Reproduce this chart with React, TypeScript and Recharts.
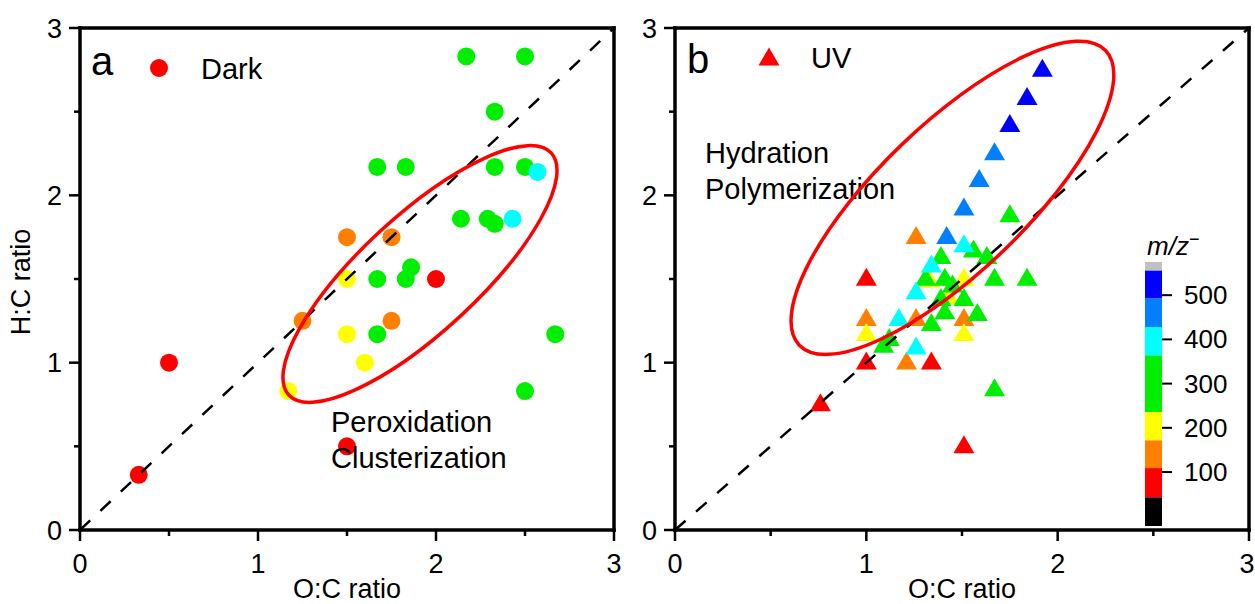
import React from 'react';
import { ScatterChart, Scatter, XAxis, YAxis, ReferenceLine, ReferenceArea } from 'recharts';

const FONT = '"Liberation Sans", Arial, Helvetica, sans-serif';

// each point: [O:C ratio, H:C ratio, m/z]
const darkPoints: number[][] = [
  [0.33, 0.33, 80], [0.5, 1.0, 80], [1.5, 0.5, 80], [2.0, 1.5, 80],
  [1.25, 1.25, 140], [1.5, 1.75, 140], [1.75, 1.75, 140], [1.75, 1.25, 140],
  [1.17, 0.83, 200], [1.5, 1.5, 200], [1.5, 1.17, 200], [1.6, 1.0, 200],
  [1.67, 2.17, 300], [1.83, 2.17, 300], [1.67, 1.5, 300], [1.86, 1.57, 300],
  [1.83, 1.5, 300], [1.67, 1.17, 300], [2.17, 2.83, 300], [2.5, 2.83, 300],
  [2.33, 2.5, 300], [2.33, 2.17, 300], [2.5, 2.17, 300], [2.14, 1.86, 300],
  [2.29, 1.86, 300], [2.33, 1.83, 300], [2.67, 1.17, 300], [2.5, 0.83, 300],
  [2.57, 2.14, 400], [2.43, 1.86, 400],
];

const uvPoints: number[][] = [
  [1.26, 1.76, 140], [1.0, 1.27, 140], [1.26, 1.27, 140], [1.51, 1.27, 140], [1.21, 1.01, 140],
  [1.33, 1.5, 200], [1.51, 1.51, 200], [1.43, 1.4, 200], [1.0, 1.18, 200], [1.51, 1.18, 200],
  [1.75, 1.89, 300], [1.56, 1.68, 300], [1.63, 1.64, 300], [1.39, 1.64, 300], [1.31, 1.51, 300],
  [1.41, 1.51, 300], [1.45, 1.47, 300], [1.67, 1.51, 300], [1.84, 1.51, 300], [1.39, 1.39, 300],
  [1.51, 1.39, 300], [1.41, 1.31, 300], [1.58, 1.3, 300], [1.34, 1.24, 300], [1.09, 1.11, 300],
  [1.12, 1.15, 300], [1.67, 0.85, 300],
  [1.51, 1.71, 400], [1.34, 1.59, 400], [1.26, 1.43, 400], [1.17, 1.27, 400], [1.26, 1.1, 400],
  [1.67, 2.26, 460], [1.59, 2.1, 460], [1.51, 1.93, 460], [1.42, 1.76, 460],
  [1.92, 2.76, 520], [1.84, 2.59, 520], [1.75, 2.43, 520],
  [1.0, 1.51, 80], [1.0, 1.01, 80], [1.34, 1.01, 80], [0.76, 0.76, 80], [1.51, 0.51, 80],
];

const axisTicks = [0, 0.5, 1, 1.5, 2, 2.5, 3];
const diagonal = [{ x: 0, y: 0 }, { x: 3, y: 3 }];
const darkEllipseCenter = [{ x: 1.91, y: 1.53 }];
const uvEllipseCenter = [{ x: 1.45, y: 1.985 }];

// colour scale (m/z)
const colorLevels = [-22, 43, 109, 172, 236, 364, 428, 493, 556, 575];
const colorBands = ['#000000', '#ff0000', '#ff8000', '#ffff00', '#00ee00', '#00ffff', '#0080ff', '#0000ff', '#c0c0c0'];
const colorTicks = [100, 200, 300, 400, 500];

const mzColor = (mz: number) => {
  for (let i = 0; i < colorBands.length; i++) {
    if (mz >= colorLevels[i] && mz < colorLevels[i + 1]) return colorBands[i];
  }
  return colorBands[colorBands.length - 1];
};

const toRows = (pts: number[][]) => pts.map(([x, y, mz]) => ({ x, y, mz }));

const XTick = (props: any) => {
  const { x, y, payload, maxX } = props;
  const major = Number.isInteger(payload.value);
  return (
    <g>
      <line x1={x} x2={x} y1={y} y2={y + (major ? 11 : 6)} stroke="#000" strokeWidth={2.5} />
      {major && (
        <text x={Math.min(x, maxX)} y={y + 43} textAnchor="middle" fontSize={27} fontFamily={FONT} fill="#000">
          {payload.value}
        </text>
      )}
    </g>
  );
};

const YTick = (props: any) => {
  const { x, y, payload } = props;
  const major = Number.isInteger(payload.value);
  return (
    <g>
      <line x1={x} x2={x - (major ? 11 : 6)} y1={y} y2={y} stroke="#000" strokeWidth={2.5} />
      {major && (
        <text x={x - 18} y={y + 9.5} textAnchor="end" fontSize={27} fontFamily={FONT} fill="#000">
          {payload.value}
        </text>
      )}
    </g>
  );
};

const ColorTick = (props: any) => {
  const { x, y, payload } = props;
  return (
    <g>
      <line x1={x} x2={x + 10} y1={y} y2={y} stroke="#000" strokeWidth={2} />
      <text x={x + 22} y={y + 9} textAnchor="start" fontSize={26} fontFamily={FONT} fill="#000">
        {payload.value}
      </text>
    </g>
  );
};

const Circle = (p: any) => <circle cx={p.cx} cy={p.cy} r={9} fill={mzColor(p.payload.mz)} />;

const Triangle = (p: any) => (
  <polygon
    points={`${p.cx},${p.cy - 9.5} ${p.cx + 10.5},${p.cy + 8.5} ${p.cx - 10.5},${p.cy + 8.5}`}
    fill={mzColor(p.payload.mz)}
  />
);

const ellipseShape = (rx: number, ry: number, angle: number) => (p: any) => (
  <ellipse
    cx={p.cx}
    cy={p.cy}
    rx={rx}
    ry={ry}
    transform={`rotate(${-angle} ${p.cx} ${p.cy})`}
    fill="none"
    stroke="#ff0000"
    strokeWidth={3.5}
  />
);

const noShape = () => <g />;

const axisLine = { stroke: '#000', strokeWidth: 3.5, strokeLinecap: 'square' as const };

interface PanelProps {
  points: number[][];
  marker: (p: any) => React.ReactElement;
  ellipse: { x: number; y: number }[];
  ellipseDraw: (p: any) => React.ReactElement;
  width: number;
  marginLeft: number;
  marginRight: number;
  yAxisWidth: number;
}

const Panel: React.FC<PanelProps> = ({ points, marker, ellipse, ellipseDraw, width, marginLeft, marginRight, yAxisWidth }) => (
  <ScatterChart width={width} height={604} margin={{ top: 28, right: marginRight, bottom: 0, left: marginLeft }}>
    <XAxis
      type="number"
      dataKey="x"
      domain={[0, 3]}
      ticks={axisTicks}
      interval={0}
      allowDataOverflow
      height={74}
      tickSize={0}
      tickMargin={0}
      tickLine={false}
      axisLine={axisLine}
      tick={(p: any) => <XTick {...p} maxX={width - 8} />}
    />
    <YAxis
      type="number"
      dataKey="y"
      domain={[0, 3]}
      ticks={axisTicks}
      interval={0}
      allowDataOverflow
      width={yAxisWidth}
      tickSize={0}
      tickMargin={0}
      tickLine={false}
      axisLine={axisLine}
      tick={(p: any) => <YTick {...p} />}
    />
    <ReferenceLine y={3} stroke="#000" strokeWidth={3.5} strokeLinecap="square" />
    <ReferenceLine x={3} stroke="#000" strokeWidth={3.5} strokeLinecap="square" />
    <Scatter data={toRows(points)} shape={marker} isAnimationActive={false} />
    <Scatter
      data={diagonal}
      shape={noShape}
      line={{ stroke: '#000', strokeWidth: 2.5, strokeDasharray: '14 14' }}
      isAnimationActive={false}
    />
    <Scatter data={ellipse} shape={ellipseDraw} isAnimationActive={false} />
  </ScatterChart>
);

const ColorBar = () => (
  <ScatterChart width={150} height={300} margin={{ top: 12, right: 8, bottom: 24, left: 45 }}>
    <XAxis type="number" dataKey="x" domain={[0, 1]} allowDataOverflow hide />
    <YAxis
      type="number"
      dataKey="y"
      orientation="right"
      domain={[colorLevels[0], colorLevels[colorLevels.length - 1]]}
      allowDataOverflow
      ticks={colorTicks}
      interval={0}
      width={80}
      tickSize={0}
      tickMargin={0}
      tickLine={false}
      axisLine={false}
      tick={(p: any) => <ColorTick {...p} />}
    />
    {colorBands.map((c, i) => (
      <ReferenceArea
        key={c}
        x1={0}
        x2={1}
        y1={colorLevels[i]}
        y2={colorLevels[i + 1]}
        fill={c}
        fillOpacity={1}
        stroke="none"
      />
    ))}
  </ScatterChart>
);

const T = ({ x, y, size, children, anchor = 'start' }: any) => (
  <text x={x} y={y} fontSize={size} fontFamily={FONT} fill="#000" textAnchor={anchor}>
    {children}
  </text>
);

const layer: React.CSSProperties = { position: 'absolute', left: 0, top: 0, pointerEvents: 'none' };

export default function App() {
  return (
    <div style={{ position: 'absolute', left: 0, top: 0, width: 1255, height: 604, background: '#fff', overflow: 'hidden', fontFamily: FONT }}>
      {/* text that sits under panel b's ellipse */}
      <svg width={1255} height={604} style={layer}>
        <T x={705} y={163} size={29}>Hydration</T>
        <T x={705} y={199} size={29}>Polymerization</T>
      </svg>
      <div style={{ position: 'absolute', left: 0, top: 0 }}>
        <Panel
          points={darkPoints}
          marker={Circle}
          ellipse={darkEllipseCenter}
          ellipseDraw={ellipseShape(178.5, 58.4, 42.7)}
          width={625}
          marginLeft={30}
          marginRight={11}
          yAxisWidth={50}
        />
      </div>
      <div style={{ position: 'absolute', left: 620, top: 0 }}>
        <Panel
          points={uvPoints}
          marker={Triangle}
          ellipse={uvEllipseCenter}
          ellipseDraw={ellipseShape(212.5, 73.5, 43.9)}
          width={635}
          marginLeft={25}
          marginRight={6}
          yAxisWidth={30}
        />
      </div>
      <div style={{ position: 'absolute', left: 1100, top: 250 }}>
        <ColorBar />
      </div>
      <svg width={1255} height={604} style={layer}>
        <T x={91} y={75} size={40}>a</T>
        <circle cx={159} cy={68} r={9} fill="#ff0000" />
        <T x={201} y={79} size={29}>Dark</T>
        <T x={687} y={73} size={40}>b</T>
        <polygon points="769,47.5 779.5,65.5 758.5,65.5" fill="#ff0000" />
        <T x={811} y={68} size={29}>UV</T>
        <T x={331} y={432} size={29}>Peroxidation</T>
        <T x={331} y={468} size={29}>Clusterization</T>
        <T x={347} y={598} size={27} anchor="middle">O:C ratio</T>
        <T x={962} y={598} size={27} anchor="middle">O:C ratio</T>
        <g transform="translate(30 282) rotate(-90)">
          <T x={0} y={0} size={27} anchor="middle">H:C ratio</T>
        </g>
        <text x={1147} y={255} fontSize={26} fontFamily={FONT} fill="#000">
          <tspan fontStyle="italic">m/z</tspan>
          <tspan fontSize={18} dy={-10}>−</tspan>
        </text>
      </svg>
    </div>
  );
}
